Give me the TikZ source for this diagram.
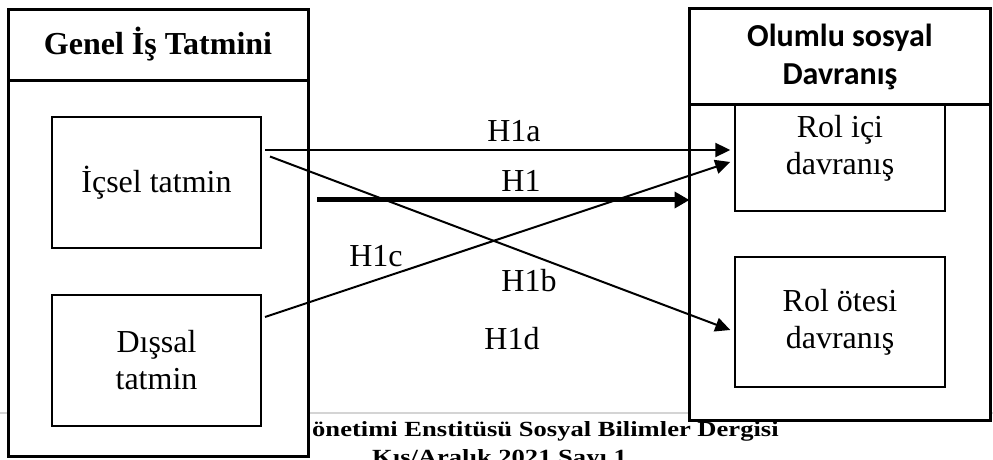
\documentclass[tikz,border=0pt]{standalone}
\usepackage{fontspec}
\setmainfont{Liberation Serif}
\newfontfamily\hsans{Carlito}
\newfontfamily\footfont{Liberation Serif}[FakeStretch=1.23]
\usetikzlibrary{arrows.meta,calc}
\begin{document}
\begin{tikzpicture}[x=1bp,y=-1bp,
  outerbox/.style={draw,line width=3bp,fill=white,inner sep=0pt,outer sep=0pt},
  innerbox/.style={draw,line width=2bp,fill=white,inner sep=0pt,outer sep=0pt,align=center,
    font=\fontsize{32bp}{37bp}\selectfont},
  lbl/.style={anchor=base,inner sep=0pt,font=\fontsize{32bp}{37bp}\selectfont},
  arr/.style={line width=2bp,-{Triangle[length=15bp,width=14bp]}},
  thickarr/.style={line width=5bp,-{Triangle[length=15bp,width=16bp]}},
  foot/.style={inner sep=0pt,anchor=base west,font=\footfont\fontsize{21.6bp}{26bp}\selectfont\bfseries}
]
\useasboundingbox (0,0) rectangle (993,460);
% page artefacts behind the diagram
\draw[line width=1.5bp,color=black!17] (0,413) -- (993,413);
\node[foot] (f1) at (312,436) {önetimi Enstitüsü Sosyal Bilimler Dergisi};
\node[foot] (f2) at (372,464) {Kış/Aralık 2021 Sayı 1};

% left group
\node[outerbox,minimum width=300bp,minimum height=447bp] (lo) at (158.5,233) {};
\coordinate (lh) at (0,81);
\draw[line width=3bp] (lo.west |- lh) -- (lo.east |- lh);
\node[lbl,font=\fontsize{32bp}{37bp}\selectfont\bfseries] (lt) at (158,55) {Genel İş Tatmini};
\node[innerbox,minimum width=209bp,minimum height=131bp] (ic) at (156.5,182.5) {İçsel tatmin};
\node[innerbox,minimum width=209bp,minimum height=131bp] (di) at (156.5,360.5) {Dışsal\\tatmin};

% right group
\node[outerbox,minimum width=301bp,minimum height=412bp] (ro) at (840,214.8) {};
\coordinate (rh) at (0,105);
\draw[line width=3bp] (ro.west |- rh) -- (ro.east |- rh);
\node[inner sep=0pt,align=center,font=\fontsize{32bp}{38bp}\selectfont\hsans\bfseries] (rt) at (840,57) {Olumlu sosyal\\Davranış};
\node[innerbox,minimum width=209.4bp,minimum height=106bp] (ri) at (840,158) {};
\node[inner sep=0pt,align=center,font=\fontsize{32bp}{37bp}\selectfont] (rit) at (840,148) {Rol içi\\davranış};
\node[innerbox,minimum width=209.4bp,minimum height=130bp] (rb) at (840,322) {Rol ötesi\\davranış};

% connectors
\coordinate (s1a) at ($(ic.east)+(4,-32.5)$);
\coordinate (s1b) at ($(ic.east)+(9,-26)$);
\coordinate (s1c) at ($(di.east)+(4,-43.5)$);
\coordinate (e1a) at ($(ri.west)+(-5,-8)$);
\coordinate (e1c) at ($(ri.west)+(-5,4)$);
\coordinate (e1b) at ($(rb.west)+(-5,8)$);
\coordinate (s1) at (317,200);
\draw[arr] (s1a) -- (e1a);
\draw[arr] (s1b) -- (e1b);
\draw[arr] (s1c) -- (e1c);
\draw[thickarr] (s1) -- (ro.west |- s1);

% labels
\node[lbl] (h1a) at (514,142) {H1a};
\node[lbl] (h1) at (521,192) {H1};
\node[lbl] (h1c) at (376,267) {H1c};
\node[lbl] (h1b) at (529,292) {H1b};
\node[lbl] (h1d) at (512,350) {H1d};
\end{tikzpicture}
\end{document}
